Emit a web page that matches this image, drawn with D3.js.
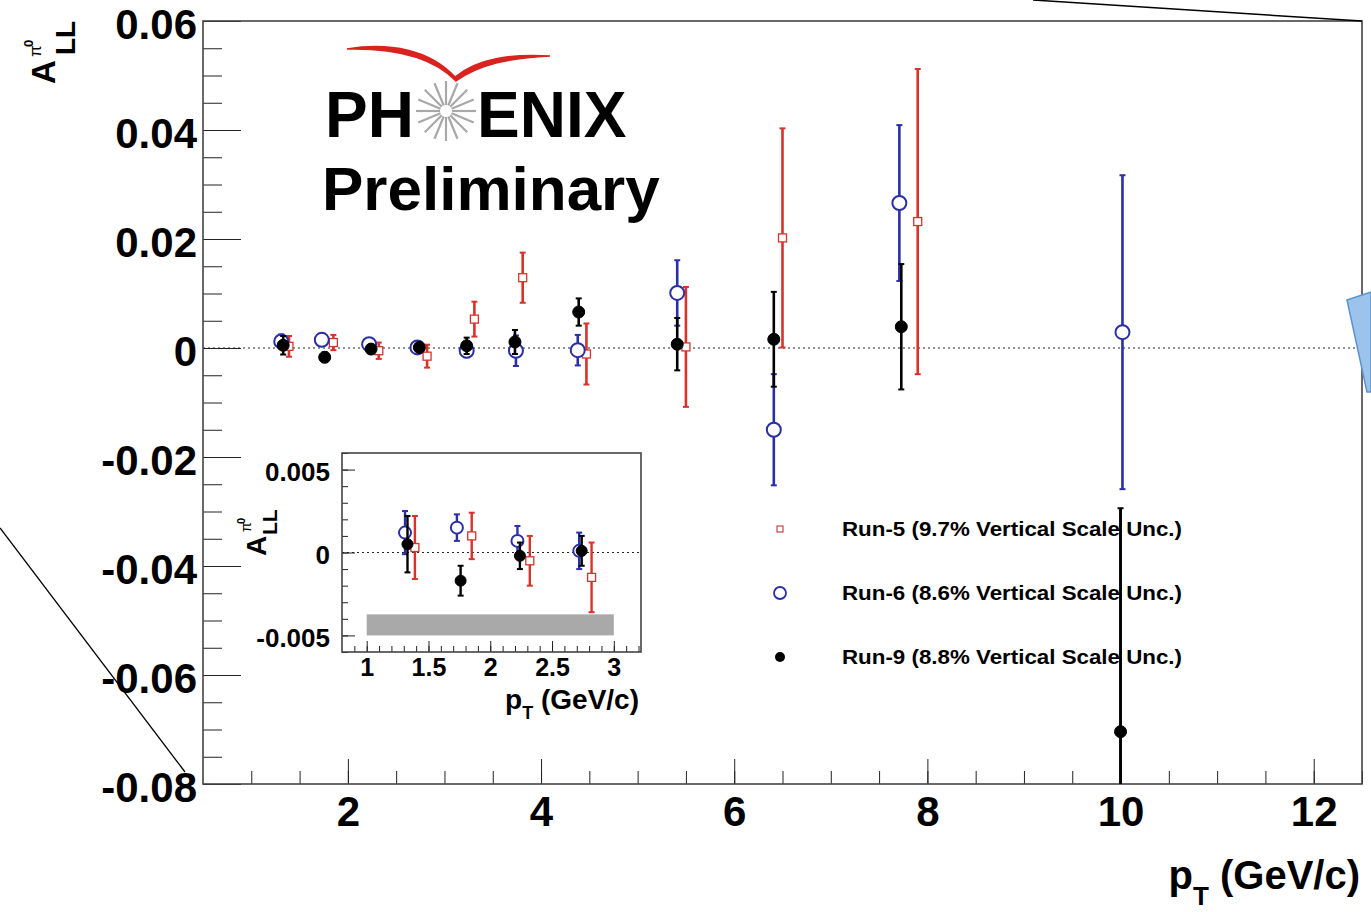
<!DOCTYPE html>
<html lang="en">
<head>
<meta charset="UTF-8">
<title>PHENIX pi0 A_LL</title>
<script src="https://d3js.org/d3.v7.min.js"></script>
<style>
  body { margin: 0; background: #fff; }
  svg { font-family: "Liberation Sans", Arial, Helvetica, sans-serif; font-weight: bold; }
  .tick text { font-weight: bold; }
</style>
</head>
<body>
<svg width="1371" height="912"></svg>
<script>
// Run-5 (red open squares)
const run5Pt  = [1.39, 1.85, 2.32, 2.82, 3.31, 3.81, 4.47, 5.50, 6.50, 7.90];
const run5All = [0.0003, 0.0010, -0.0005, -0.0015, 0.0053, 0.0129, -0.0011, 0.0002, 0.0202, 0.0232];
const run5Err = [0.0019, 0.0014, 0.0015, 0.0021, 0.0032, 0.0046, 0.0056, 0.0110, 0.0201, 0.0280];

// Run-6 (blue open circles)
const run6Pt  = [1.31, 1.73, 2.22, 2.72, 3.23, 3.74, 4.38, 5.41, 6.41, 7.71, 10.02];
const run6All = [0.0012, 0.0015, 0.0007, 0.0001, -0.0005, -0.0005, -0.0004, 0.0101, -0.0150, 0.0266, 0.0029];
const run6Err = [0.0013, 0.0008, 0.0009, 0.0011, 0.0012, 0.0028, 0.0028, 0.0060, 0.0102, 0.0143, 0.0288];

// Run-9 (black filled circles)
const run9Pt  = [1.33, 1.76, 2.24, 2.74, 3.23, 3.73, 4.39, 5.41, 6.41, 7.73, 10.00];
const run9All = [0.0005, -0.0017, -0.0002, 0.0001, 0.0004, 0.0011, 0.0066, 0.0007, 0.0016, 0.0039, -0.0704];
const run9Err = [0.0017, 0.0009, 0.0008, 0.0009, 0.0015, 0.0022, 0.0025, 0.0048, 0.0087, 0.0115, 0.0410];

const legendLabels = [
  "Run-5 (9.7% Vertical Scale Unc.)",
  "Run-6 (8.6% Vertical Scale Unc.)",
  "Run-9 (8.8% Vertical Scale Unc.)"
];

const mainXTicks = [2, 4, 6, 8, 10, 12];
const mainYTicks = [0.06, 0.04, 0.02, 0, -0.02, -0.04, -0.06, -0.08];
const insetXTicks = [1, 1.5, 2, 2.5, 3];
const insetYTicks = [0.005, 0, -0.005];
const insetBand = [1, 3, -0.00373, -0.005];   // x0, x1, y0, y1 (scale uncertainty band)

const svg = d3.select("svg");
svg.append("rect").attr("width", 1371).attr("height", 912).attr("fill", "#fff");

const RED = "#d8322c", BLUE = "#2a2fa8", BLACK = "#000";

const runs = [
  {x: run5Pt, y: run5All, e: run5Err, color: RED, shape: "square"},
  {x: run6Pt, y: run6All, e: run6Err, color: BLUE, shape: "open"},
  {x: run9Pt, y: run9All, e: run9Err, color: BLACK, shape: "filled"}
];

function fmt(d) {
  if (d === 0) return "0";
  return d3.format(".3~f")(d).replace("\u2212", "-");
}

// draws one panel (main or inset)
function panel(opt) {
  const x = d3.scaleLinear().domain(opt.xDom).range([opt.left, opt.right]);
  const y = d3.scaleLinear().domain(opt.yDom).range([opt.bottom, opt.top]);
  const g = svg.append("g");

  g.append("rect")
    .attr("x", opt.left).attr("y", opt.top)
    .attr("width", opt.right - opt.left).attr("height", opt.bottom - opt.top)
    .attr("fill", "#fff");

  const clipId = "clip" + opt.id;
  g.append("clipPath").attr("id", clipId).append("rect")
    .attr("x", opt.left).attr("y", opt.top)
    .attr("width", opt.right - opt.left).attr("height", opt.bottom - opt.top);

  if (opt.band) {
    g.append("rect")
      .attr("x", x(opt.band[0])).attr("y", y(opt.band[2]))
      .attr("width", x(opt.band[1]) - x(opt.band[0]))
      .attr("height", y(opt.band[3]) - y(opt.band[2]))
      .attr("fill", "#a9a9a9");
  }

  // zero line
  g.append("line")
    .attr("x1", opt.left).attr("x2", opt.right)
    .attr("y1", y(0)).attr("y2", y(0))
    .attr("stroke", "#222").attr("stroke-width", 1.2)
    .attr("stroke-dasharray", "2,3");

  // axes (ticks inside like ROOT)
  const yMinor = d3.range(opt.yDom[0], opt.yDom[1] + 1e-9, opt.yMinorStep);
  const xMinor = d3.range(opt.xMinorStart, opt.xDom[1] + 1e-9, opt.xMinorStep);

  const ax = (sel) => sel.call(s => s.select(".domain").remove())
    .call(s => s.selectAll(".tick line").attr("stroke", "#222"));

  g.append("g").attr("transform", `translate(${opt.left},0)`)
    .call(d3.axisLeft(y).tickValues(yMinor).tickSize(-opt.yMinorLen).tickFormat(""))
    .call(ax);
  g.append("g").attr("transform", `translate(${opt.left},0)`)
    .call(d3.axisLeft(y).tickValues(opt.yTicks).tickSize(-opt.yMajorLen).tickPadding(opt.yPad).tickFormat(fmt))
    .call(ax)
    .call(s => s.selectAll("text").attr("fill", "#000").attr("dy", "0.42em")
      .style("font-size", opt.font + "px")
      .attr("font-family", "Liberation Sans, Arial, sans-serif"));

  g.append("g").attr("transform", `translate(0,${opt.bottom})`)
    .call(d3.axisBottom(x).tickValues(xMinor).tickSize(-opt.xMinorLen).tickFormat(""))
    .call(ax);
  g.append("g").attr("transform", `translate(0,${opt.bottom})`)
    .call(d3.axisBottom(x).tickValues(opt.xTicks).tickSize(-opt.xMajorLen).tickPadding(opt.xPad).tickFormat(d => d))
    .call(ax)
    .call(s => s.selectAll("text").attr("fill", "#000").style("font-size", opt.xFont + "px")
      .attr("font-family", "Liberation Sans, Arial, sans-serif"));

  // data
  const dg = g.append("g").attr("clip-path", `url(#${clipId})`);
  runs.forEach(r => {
    const pts = r.x.map((v, i) => ({x: v, y: r.y[i], e: r.e[i]})).filter(d => d.x < opt.xDom[1]);
    const sg = dg.append("g");
    sg.selectAll(".bar").data(pts).join("line")
      .attr("x1", d => x(d.x)).attr("x2", d => x(d.x))
      .attr("y1", d => y(d.y - d.e)).attr("y2", d => y(d.y + d.e))
      .attr("stroke", r.color).attr("stroke-width", opt.barW);
    [-1, 1].forEach(sgn => {
      sg.selectAll(null).data(pts).join("line")
        .attr("x1", d => x(d.x) - opt.cap).attr("x2", d => x(d.x) + opt.cap)
        .attr("y1", d => y(d.y + sgn * d.e)).attr("y2", d => y(d.y + sgn * d.e))
        .attr("stroke", r.color).attr("stroke-width", 2);
    });
    if (r.shape === "square") {
      sg.selectAll("rect").data(pts).join("rect")
        .attr("x", d => x(d.x) - opt.sq / 2).attr("y", d => y(d.y) - opt.sq / 2)
        .attr("width", opt.sq).attr("height", opt.sq)
        .attr("fill", "#fff").attr("stroke", r.color).attr("stroke-width", 1.3);
    } else {
      sg.selectAll("circle").data(pts).join("circle")
        .attr("cx", d => x(d.x)).attr("cy", d => y(d.y))
        .attr("r", r.shape === "open" ? opt.rOpen : opt.rFill)
        .attr("fill", r.shape === "open" ? "#fff" : r.color)
        .attr("stroke", r.color).attr("stroke-width", r.shape === "open" ? 2 : 1);
    }
  });

  // frame
  g.append("rect")
    .attr("x", opt.left).attr("y", opt.top)
    .attr("width", opt.right - opt.left).attr("height", opt.bottom - opt.top)
    .attr("fill", "none").attr("stroke", "#444").attr("stroke-width", 1.6);

  return {x, y, g};
}

// main frame
const main = panel({
  id: "main", left: 203, right: 1362, top: 21, bottom: 784,
  xDom: [0.5, 12.5], yDom: [-0.08, 0.06],
  xTicks: mainXTicks, yTicks: mainYTicks,
  xMinorStart: 1, xMinorStep: 0.5, yMinorStep: 0.005,
  xMinorLen: 13, xMajorLen: 25, yMinorLen: 19, yMajorLen: 38,
  yPad: 6, xPad: 12, font: 42, xFont: 42,
  barW: 2.6, cap: 3, sq: 8, rOpen: 7, rFill: 6
});

// PHENIX logo
const logo = svg.append("g");
logo.append("path")
  .attr("d", "M347,49 C390,42 430,50 455,77 C478,58 510,54 550,56 C510,58 480,64 456,81 C432,56 392,48 347,49 Z")
  .attr("fill", "#d8231f").attr("stroke", "#d8231f").attr("stroke-width", 1.5);
logo.append("text").attr("x", 325).attr("y", 137).attr("font-size", 64).text("PH");
logo.append("text").attr("x", 477).attr("y", 137).attr("font-size", 64).text("ENIX");
const burst = logo.append("g").attr("transform", "translate(446,111)");
burst.selectAll("line").data(d3.range(16)).join("line")
  .attr("x1", i => 6 * Math.cos(i * Math.PI / 8)).attr("y1", i => 6 * Math.sin(i * Math.PI / 8))
  .attr("x2", i => 30 * Math.cos(i * Math.PI / 8)).attr("y2", i => 30 * Math.sin(i * Math.PI / 8))
  .attr("stroke", "#a8a8a8").attr("stroke-width", 2.2);
logo.append("text").attr("x", 322).attr("y", 210).attr("font-size", 62).text("Preliminary");

// main axis titles
const yt = svg.append("g").attr("transform", "translate(55,84) rotate(-90)");
yt.append("text").attr("x", 0).attr("y", 0).attr("font-size", 33).text("A");
yt.append("text").attr("x", 29).attr("y", 20).attr("font-size", 28).text("LL");
yt.append("text").attr("x", 27).attr("y", -14).attr("font-size", 17).attr("font-weight", "normal").text("\u03c0");
yt.append("text").attr("x", 37).attr("y", -22).attr("font-size", 13).text("0");

const xt = svg.append("text").attr("x", 1360).attr("y", 889).attr("text-anchor", "end").attr("font-size", 40);
xt.append("tspan").text("p");
xt.append("tspan").attr("font-size", 26).attr("dy", 16).text("T");
xt.append("tspan").attr("dy", -16).text(" (GeV/c)");

// legend
const legend = svg.append("g");
legendLabels.forEach((t, i) => {
  const ly = 529 + i * 64;
  if (i === 0) {
    legend.append("rect").attr("x", 777).attr("y", ly - 3).attr("width", 6).attr("height", 6)
      .attr("fill", "#fff").attr("stroke", "#c04848").attr("stroke-width", 1.2);
  } else if (i === 1) {
    legend.append("circle").attr("cx", 780).attr("cy", ly).attr("r", 6)
      .attr("fill", "#fff").attr("stroke", BLUE).attr("stroke-width", 1.8);
  } else {
    legend.append("circle").attr("cx", 780).attr("cy", ly).attr("r", 5).attr("fill", BLACK);
  }
  legend.append("text").attr("x", 842).attr("y", ly + 7).attr("font-size", 20)
    .attr("textLength", 340).attr("lengthAdjust", "spacingAndGlyphs").text(t);
});

// redraw Run-9 high-pT bar on top of legend text (it crosses the legend in the reference)
{
  const i = run9Pt.length - 1;
  svg.append("line")
    .attr("x1", main.x(run9Pt[i])).attr("x2", main.x(run9Pt[i]))
    .attr("y1", main.y(run9All[i] + run9Err[i])).attr("y2", 784)
    .attr("stroke", BLACK).attr("stroke-width", 2.6);
}

// inset
const inset = panel({
  id: "inset", left: 342, right: 641, top: 453, bottom: 652,
  xDom: [0.8, 3.22], yDom: [-0.006, 0.006],
  xTicks: insetXTicks, yTicks: insetYTicks,
  xMinorStart: 0.9, xMinorStep: 0.1, yMinorStep: 0.001,
  xMinorLen: 6, xMajorLen: 11, yMinorLen: 6, yMajorLen: 13,
  yPad: 12, xPad: 6, font: 26, xFont: 25,
  barW: 2.4, cap: 3, sq: 8, rOpen: 6, rFill: 5.5, band: insetBand
});

const iyt = svg.append("g").attr("transform", "translate(266,556) rotate(-90)");
iyt.append("text").attr("x", 0).attr("y", 0).attr("font-size", 28).text("A");
iyt.append("text").attr("x", 21).attr("y", 11).attr("font-size", 21).text("LL");
iyt.append("text").attr("x", 24).attr("y", -15).attr("font-size", 14).attr("font-weight", "normal").text("\u03c0");
iyt.append("text").attr("x", 32).attr("y", -21).attr("font-size", 11).text("0");

const ixt = svg.append("text").attr("x", 639).attr("y", 709).attr("text-anchor", "end").attr("font-size", 28);
ixt.append("tspan").text("p");
ixt.append("tspan").attr("font-size", 18).attr("dy", 10).text("T");
ixt.append("tspan").attr("dy", -10).text(" (GeV/c)");

// slide annotations around the figure
svg.append("line").attr("x1", 0).attr("y1", 528).attr("x2", 185).attr("y2", 772)
  .attr("stroke", "#000").attr("stroke-width", 1.3);
svg.append("line").attr("x1", 1033).attr("y1", 0).attr("x2", 1362).attr("y2", 21)
  .attr("stroke", "#000").attr("stroke-width", 1.5);
svg.append("path").attr("d", "M1347,300 L1371,292 L1371,392 L1367,392 Z")
  .attr("fill", "#9cc3ec").attr("stroke", "#5d92d2").attr("stroke-width", 1.5);
</script>
</body>
</html>
